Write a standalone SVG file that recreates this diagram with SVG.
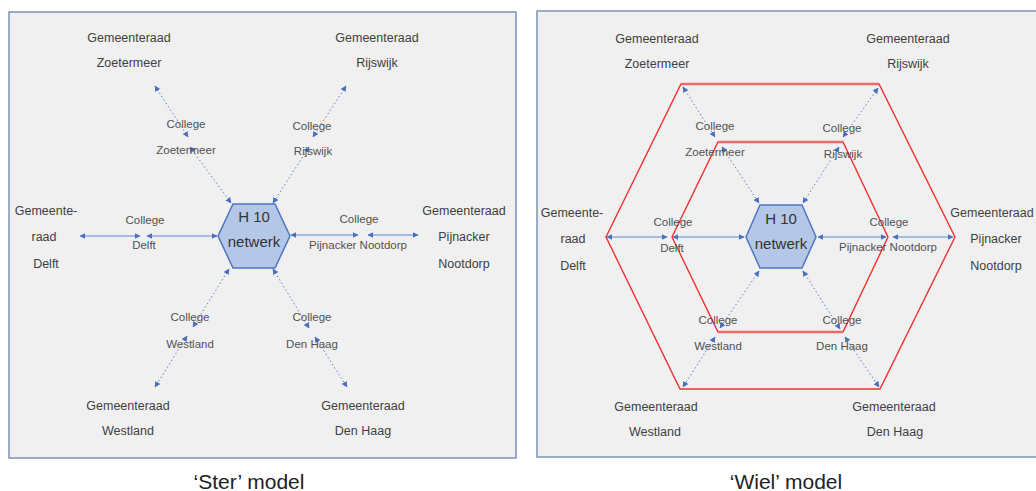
<svg xmlns="http://www.w3.org/2000/svg" width="1036" height="491" viewBox="0 0 1036 491">
<style>
.panel{fill:#f0f0f0;stroke:#7f93b5;stroke-width:1.5}
.hex{fill:#b4c7e7;stroke:#4f76c0;stroke-width:1.5}
.ht{font-family:"Liberation Sans",Arial,sans-serif;font-size:15px;fill:#333;text-anchor:middle;dominant-baseline:central}
.g{font-family:"Liberation Sans",Arial,sans-serif;font-size:12.5px;fill:#404040;text-anchor:middle;dominant-baseline:central}
.c{font-family:"Liberation Sans",Arial,sans-serif;font-size:11.5px;fill:#505050;text-anchor:middle;dominant-baseline:central}
.title{font-family:"Liberation Sans",Arial,sans-serif;font-size:21px;fill:#222;text-anchor:middle}
.dot{stroke:#5b7fc8;stroke-width:1;stroke-dasharray:1.5 2.5;fill:none;marker-start:url(#ah);marker-end:url(#ah)}
.sol{stroke:#8faadc;stroke-width:1.5;fill:none;marker-start:url(#ah);marker-end:url(#ah)}
.red{fill:none;stroke:#f03030;stroke-width:1.4}
.redt{fill:none;stroke:#ee6a6a;stroke-width:2.5}
</style>
<defs>
<marker id="ah" viewBox="0 0 10 10" refX="9" refY="5" markerWidth="6" markerHeight="6" markerUnits="userSpaceOnUse" orient="auto-start-reverse">
<path d="M0,0 L10,5 L0,10 z" fill="#4a6fbf"/>
</marker>
</defs>
<rect width="1036" height="491" fill="#ffffff"/>
<rect class="panel" x="9" y="12" width="507" height="446"/>
<rect class="panel" x="537" y="11" width="515" height="446"/>

<g id="wheel-ring">
<polygon class="red" points="681,84 879,84 955,237 880,389 680,389 606,237"/>
<polygon class="red" points="718,142 843,142 888,237 843,332 718,332 672,237"/>
<line class="redt" x1="681" y1="84" x2="879" y2="84"/>
<line class="redt" x1="718" y1="142" x2="843" y2="142"/>
<line class="redt" x1="718" y1="332" x2="843" y2="332"/>
</g>

<g id="connectors">
<line class="dot" x1="155" y1="86" x2="188" y2="137"/>
<line class="dot" x1="190" y1="147" x2="231" y2="203"/>
<line class="dot" x1="346" y1="86" x2="313" y2="137"/>
<line class="dot" x1="309" y1="147" x2="273" y2="203"/>
<line class="sol" x1="80" y1="236" x2="140" y2="236"/>
<line class="sol" x1="147" y1="236" x2="217" y2="236"/>
<line class="sol" x1="291" y1="235" x2="358" y2="235"/>
<line class="sol" x1="368" y1="235" x2="418" y2="235"/>
<line class="dot" x1="229" y1="269" x2="193" y2="327"/>
<line class="dot" x1="187" y1="336" x2="155" y2="387"/>
<line class="dot" x1="273" y1="269" x2="309" y2="328"/>
<line class="dot" x1="315" y1="337" x2="347" y2="387"/>

<line class="dot" x1="683" y1="87" x2="715" y2="137"/>
<line class="dot" x1="722" y1="147" x2="759" y2="203"/>
<line class="dot" x1="878" y1="88" x2="843" y2="137"/>
<line class="dot" x1="839" y1="147" x2="803" y2="203"/>
<line class="sol" x1="607" y1="237" x2="667" y2="237"/>
<line class="sol" x1="673" y1="237" x2="744" y2="237"/>
<line class="sol" x1="818" y1="237" x2="886" y2="237"/>
<line class="sol" x1="893" y1="237" x2="953" y2="237"/>
<line class="dot" x1="759" y1="271" x2="720" y2="328"/>
<line class="dot" x1="715" y1="337" x2="683" y2="387"/>
<line class="dot" x1="803" y1="271" x2="840" y2="329"/>
<line class="dot" x1="845" y1="337" x2="879" y2="387"/>
</g>

<g id="ster-h10">
<polygon class="hex" points="233,204 275,204 290,236 275,268 233,268 218,236"/>
<text class="ht" x="254" y="216">H 10</text>
<text class="ht" x="254" y="241">netwerk</text>
</g>
<g id="ster-gr-zoetermeer"><text class="g" x="129" y="38">Gemeenteraad</text><text class="g" x="129" y="63">Zoetermeer</text></g>
<g id="ster-gr-rijswijk"><text class="g" x="377" y="38">Gemeenteraad</text><text class="g" x="377" y="63">Rijswijk</text></g>
<g id="ster-c-zoetermeer"><text class="c" x="186" y="124">College</text><text class="c" x="186" y="150">Zoetermeer</text></g>
<g id="ster-c-rijswijk"><text class="c" x="312" y="126">College</text><text class="c" x="313" y="151">Rijswijk</text></g>
<g id="ster-gr-delft"><text class="g" x="46" y="211">Gemeente-</text><text class="g" x="44" y="237">raad</text><text class="g" x="46" y="264">Delft</text></g>
<g id="ster-c-delft"><text class="c" x="145" y="220">College</text><text class="c" x="144" y="245">Delft</text></g>
<g id="ster-c-pijnacker"><text class="c" x="359" y="219">College</text><text class="c" x="358" y="245">Pijnacker Nootdorp</text></g>
<g id="ster-gr-pijnacker"><text class="g" x="464" y="211">Gemeenteraad</text><text class="g" x="464" y="237">Pijnacker</text><text class="g" x="464" y="264">Nootdorp</text></g>
<g id="ster-c-westland"><text class="c" x="190" y="317">College</text><text class="c" x="190" y="344">Westland</text></g>
<g id="ster-c-denhaag"><text class="c" x="312" y="317">College</text><text class="c" x="312" y="344">Den Haag</text></g>
<g id="ster-gr-westland"><text class="g" x="128" y="406">Gemeenteraad</text><text class="g" x="128" y="431">Westland</text></g>
<g id="ster-gr-denhaag"><text class="g" x="363" y="406">Gemeenteraad</text><text class="g" x="363" y="431">Den Haag</text></g>
<text class="title" x="249" y="489">‘Ster’ model</text>

<g id="wiel-h10">
<polygon class="hex" points="760,205 802,205 816,237 802,268 760,268 746,237"/>
<text class="ht" x="781" y="218">H 10</text>
<text class="ht" x="781" y="243">netwerk</text>
</g>
<g id="wiel-gr-zoetermeer"><text class="g" x="657" y="39">Gemeenteraad</text><text class="g" x="657" y="64">Zoetermeer</text></g>
<g id="wiel-gr-rijswijk"><text class="g" x="908" y="39">Gemeenteraad</text><text class="g" x="908" y="64">Rijswijk</text></g>
<g id="wiel-c-zoetermeer"><text class="c" x="715" y="126">College</text><text class="c" x="715" y="152">Zoetermeer</text></g>
<g id="wiel-c-rijswijk"><text class="c" x="842" y="128">College</text><text class="c" x="843" y="154">Rijswijk</text></g>
<g id="wiel-gr-delft"><text class="g" x="572" y="213">Gemeente-</text><text class="g" x="573" y="239">raad</text><text class="g" x="573" y="266">Delft</text></g>
<g id="wiel-c-delft"><text class="c" x="673" y="222">College</text><text class="c" x="672" y="248">Delft</text></g>
<g id="wiel-c-pijnacker"><text class="c" x="889" y="222">College</text><text class="c" x="888" y="247">Pijnacker Nootdorp</text></g>
<g id="wiel-gr-pijnacker"><text class="g" x="992" y="213">Gemeenteraad</text><text class="g" x="996" y="239">Pijnacker</text><text class="g" x="996" y="266">Nootdorp</text></g>
<g id="wiel-c-westland"><text class="c" x="718" y="320">College</text><text class="c" x="718" y="346">Westland</text></g>
<g id="wiel-c-denhaag"><text class="c" x="842" y="320">College</text><text class="c" x="842" y="346">Den Haag</text></g>
<g id="wiel-gr-westland"><text class="g" x="656" y="407">Gemeenteraad</text><text class="g" x="655" y="432">Westland</text></g>
<g id="wiel-gr-denhaag"><text class="g" x="894" y="407">Gemeenteraad</text><text class="g" x="895" y="432">Den Haag</text></g>
<text class="title" x="786" y="489">‘Wiel’ model</text>
</svg>
